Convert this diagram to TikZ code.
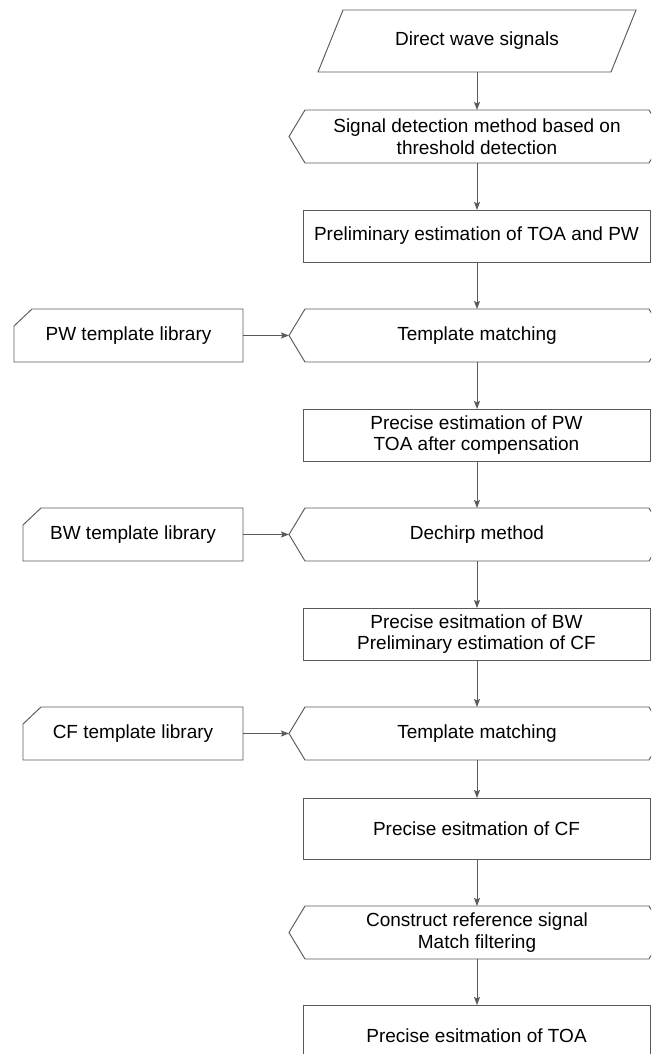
\documentclass[tikz,border=0pt]{standalone}
\usepackage{fontspec}
\setmainfont{Liberation Sans}
\usetikzlibrary{arrows.meta}
\definecolor{linec}{HTML}{5A5A5A}
\newcommand{\mainfs}{\fontsize{19}{21.5}\selectfont}
\newcommand{\hexoutline}[1]{\draw[shapeline] (#1.west) -- ([xshift=16pt]#1.north west) -- ([xshift=-16pt]#1.north east) -- (#1.east) -- ([xshift=-16pt]#1.south east) -- ([xshift=16pt]#1.south west) -- cycle;}
\newcommand{\liboutline}[1]{\draw[shapeline] (#1.south west) -- ([yshift=-17pt]#1.north west) -- ([xshift=18pt]#1.north west) -- (#1.north east) -- (#1.south east) -- cycle;}
\begin{document}
\begin{tikzpicture}[x=1pt,y=-1pt,
  shapeline/.style={draw=linec, line width=0.95pt, line join=miter},
  base/.style={inner sep=0pt, outer sep=0pt, align=center, font=\mainfs, text=black},
  rectbox/.style={base, draw=linec, line width=0.95pt, minimum width=347pt},
  hexbox/.style={base, minimum width=376pt, minimum height=53pt},
  libbox/.style={base, minimum height=53pt},
  paranode/.style={base, minimum width=318pt, minimum height=62pt},
  arr/.style={draw=linec, line width=0.95pt, -{Stealth[length=8pt,width=6pt,inset=1.5pt]}}
]
\useasboundingbox (0,0) rectangle (651,1054);
\clip (0,0) rectangle (651,1054);

% main column
\node[paranode] (p) at (477,41) {Direct wave signals};
\draw[shapeline] ([xshift=25pt]p.north west) -- (p.north east) -- ([xshift=-25pt]p.south east) -- (p.south west) -- cycle;

\node[hexbox] (h1) at (477,136.5) {Signal detection method based on\\threshold detection};
\hexoutline{h1}

\node[rectbox, minimum height=52pt] (r1) at (476.5,236) {Preliminary estimation of TOA and PW};

\node[hexbox] (h2) at (477,335.5) {Template matching};
\hexoutline{h2}

\node[rectbox, minimum height=52pt] (r2) at (476.5,435) {Precise estimation of PW\\TOA after compensation};

\node[hexbox] (h3) at (477,534.5) {Dechirp method};
\hexoutline{h3}

\node[rectbox, minimum height=52pt] (r3) at (476.5,634) {Precise esitmation of BW\\Preliminary estimation of CF};

\node[hexbox] (h4) at (477,733.5) {Template matching};
\hexoutline{h4}

\node[rectbox, minimum height=61pt] (r4) at (476.5,828.5) {Precise esitmation of CF};

\node[hexbox] (h5) at (477,932.5) {Construct reference signal\\Match filtering};
\hexoutline{h5}

\node[rectbox, minimum height=61pt] (r5) at (476.5,1035.5) {Precise esitmation of TOA};

% libraries
\node[libbox, minimum width=229pt] (l1) at (128.5,335.5) {PW template library};
\liboutline{l1}
\node[libbox, minimum width=220pt] (l2) at (133,534.5) {BW template library};
\liboutline{l2}
\node[libbox, minimum width=220pt] (l3) at (133,733.5) {CF template library};
\liboutline{l3}

% connectors
\draw[arr] (p.south -| h1.north) -- (h1.north);
\draw[arr] (h1.south) -- (h1.south |- r1.north);
\draw[arr] (h2.north |- r1.south) -- (h2.north);
\draw[arr] (h2.south) -- (h2.south |- r2.north);
\draw[arr] (h3.north |- r2.south) -- (h3.north);
\draw[arr] (h3.south) -- (h3.south |- r3.north);
\draw[arr] (h4.north |- r3.south) -- (h4.north);
\draw[arr] (h4.south) -- (h4.south |- r4.north);
\draw[arr] (h5.north |- r4.south) -- (h5.north);
\draw[arr] (h5.south) -- (h5.south |- r5.north);
\draw[arr] (l1.east) -- (h2.west);
\draw[arr] (l2.east) -- (h3.west);
\draw[arr] (l3.east) -- (h4.west);
\end{tikzpicture}
\end{document}
